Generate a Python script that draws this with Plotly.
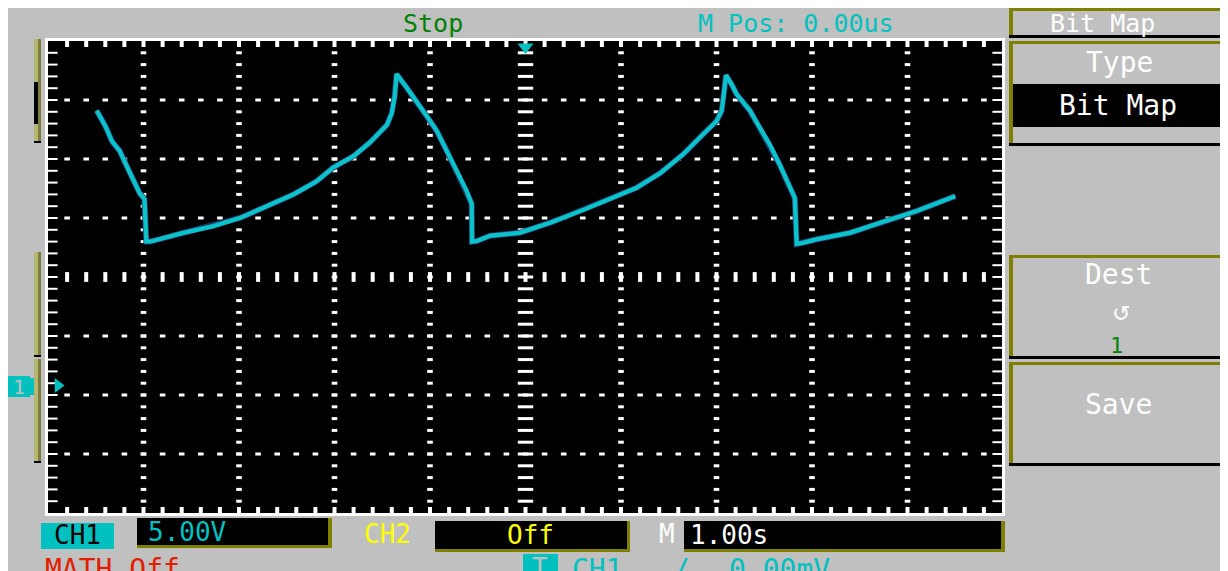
import numpy as np
import plotly.graph_objects as go

# ---------------- scope settings ----------------
sec_per_div = 1.0
volt_per_div = 5.0
n_hdiv = 10
n_vdiv = 8
ground_offset_div = -1.84          # CH1 ground marker, divisions from screen centre

# ---------------- CH1 waveform (s, V) ----------------
time_s = [-4.49, -4.40, -4.33, -4.25, -4.17, -4.09, -4.04, -3.99, -3.97, -3.93,
          -3.58, -3.27, -2.99, -2.71, -2.43, -2.19, -2.01, -1.80, -1.63, -1.45,
          -1.40, -1.37, -1.35,
          -1.24, -1.14, -1.03, -0.93, -0.825, -0.72, -0.616, -0.563, -0.56,
          -0.51, -0.37, -0.06, 0.26, 0.61, 0.96, 1.16, 1.41, 1.65, 1.86,
          2.00, 2.055, 2.08, 2.10,
          2.16, 2.21, 2.35, 2.45, 2.56, 2.66, 2.74, 2.82, 2.84,
          2.91, 3.05, 3.40, 3.75, 4.10, 4.50]
ch1_volts = [23.3, 22.0, 20.7, 19.9, 18.5, 17.1, 16.3, 15.8, 12.2, 12.2,
             12.95, 13.5, 14.2, 15.2, 16.2, 17.3, 18.5, 19.45, 20.6, 22.1,
             23.1, 24.5, 26.4,
             25.2, 24.1, 22.8, 21.6, 19.9, 18.2, 16.5, 15.4, 12.2,
             12.25, 12.7, 12.95, 13.8, 14.9, 16.05, 16.75, 18.0, 19.6, 21.3,
             22.4, 23.3, 24.7, 26.3,
             25.5, 24.7, 23.3, 21.85, 20.4, 18.75, 17.3, 15.9, 12.0,
             12.1, 12.4, 12.95, 13.9, 14.8, 16.05]

# ---------------- screen texts ----------------
status_top = ["Stop", "M Pos: 0.00us"]
menu_title = "Bit Map"
menu_items = ["Type", "Bit Map", "Dest", "\u21ba", "1", "Save"]
ch1_labels = ["CH1", "5.00V"]
ch2_labels = ["CH2", "Off"]
time_labels = ["M", "1.00s"]
bottom_row = ["MATH Off", "T", "CH1", "/", "0.00mV"]
ground_label = "1"

# ---------------- colours ----------------
GRAY = "#C0C0C0"
CYAN = "#00C0C0"
OLIVE = "#808000"
GREEN = "#008000"
YELLOW = "#FFFF00"
RED = "#E02000"
WHITE = "#FFFFFF"
FONT = "DejaVu Sans Mono"

# ---------------- geometry (screen pixels; page has an 8px body margin) ----------------
OFF = 8
W, H = 1220, 563
PL, PR, PT, PB = 48, 1003, 41, 513


def px(x):
    return (x - PL) / (PR - PL)


def py(y):
    return (PB - y) / (PB - PT)


x_lo, x_hi = -n_hdiv / 2 * sec_per_div, n_hdiv / 2 * sec_per_div
y_mid = -ground_offset_div * volt_per_div
y_lo, y_hi = y_mid - n_vdiv / 2 * volt_per_div, y_mid + n_vdiv / 2 * volt_per_div
ppx = (PR - PL) / (x_hi - x_lo)       # pixels per second
ppy = (PB - PT) / (y_hi - y_lo)       # pixels per volt

minor_x = x_lo + np.arange(0, n_hdiv * 5 + 1) * sec_per_div / 5
minor_y = y_lo + np.arange(0, n_vdiv * 5 + 1) * volt_per_div / 5

fig = go.Figure()


def dots(xs, ys, symbol, size, width, color=WHITE):
    fig.add_trace(go.Scatter(
        x=list(xs), y=list(ys), mode="markers", hoverinfo="skip", showlegend=False,
        cliponaxis=False,
        marker=dict(symbol=symbol, size=size, color=color,
                    line=dict(color=color, width=width))))


# grid: vertical dotted lines
gx, gy = [], []
for k in range(1, n_hdiv):
    if k == n_hdiv // 2:
        continue
    xv = x_lo + k * sec_per_div
    for yv in minor_y[1:-1]:
        gx.append(xv)
        gy.append(yv)
# grid: horizontal dotted lines
for k in range(1, n_vdiv):
    if k == n_vdiv // 2:
        continue
    yv = y_lo + k * volt_per_div
    for xv in minor_x[1:-1]:
        gx.append(xv)
        gy.append(yv)
dots(gx, gy, "line-ew", 4, 3)

# centre cross
dots([0.0] * (len(minor_y) - 2), minor_y[1:-1], "line-ew", 11, 3)
dots(minor_x[1:-1], [y_mid] * (len(minor_x) - 2), "line-ns", 7, 4)

# edge ticks
dots([x_lo + 4 / ppx] * (len(minor_y) - 2), minor_y[1:-1], "line-ew", 8, 2)
dots([x_hi - 5 / ppx] * (len(minor_y) - 2), minor_y[1:-1], "line-ew", 8, 2)
dots(minor_x[1:-1], [y_hi - 2.5 / ppy] * (len(minor_x) - 2), "line-ns", 5, 4)
dots(minor_x[1:-1], [y_lo + 2.5 / ppy] * (len(minor_x) - 2), "line-ns", 5, 4)

# waveform
fig.add_trace(go.Scatter(x=time_s, y=ch1_volts, mode="lines", hoverinfo="skip", showlegend=False,
                         line=dict(color="#123E66", width=6)))
fig.add_trace(go.Scatter(x=time_s, y=ch1_volts, mode="lines", hoverinfo="skip", showlegend=False,
                         line=dict(color="#30A6C8", width=4.5)))
fig.add_trace(go.Scatter(x=time_s, y=ch1_volts, mode="lines", hoverinfo="skip", showlegend=False,
                         line=dict(color="#00C8C8", width=3)))

# markers: ground arrow, trigger position, trigger level
dots([x_lo + 10 / ppx], [0.0], "triangle-right", 13, 0, CYAN)
dots([0.0], [y_hi - 6 / ppy], "triangle-down", 14, 0, CYAN)
dots([x_hi + 1 / ppx], [0.0], "line-ew", 8, 3, "#3AA0D0")

shapes = []


def rect(x0, y0, x1, y1, color):
    shapes.append(dict(type="rect", xref="paper", yref="paper",
                       x0=px(x0), x1=px(x1), y0=py(y1), y1=py(y0),
                       fillcolor=color, line=dict(width=0), layer="above"))


# plot frame
shapes.append(dict(type="rect", xref="paper", yref="paper",
                   x0=px(46.5), x1=px(1003.5), y0=py(514.5), y1=py(39.5),
                   line=dict(color=WHITE, width=3), fillcolor="rgba(0,0,0,0)", layer="above"))

# left side bars
for (a, b) in [(39, 141), (252, 355), (359, 461)]:
    rect(34, a, 38, b, "#B6B674")
    rect(38, a, 41, b, "#7E7E3C")
    rect(34, b, 41, b + 2, "#000000")
rect(34, 82, 38, 124, "#000000")

# ground "1" tag
rect(7, 376, 30, 397, CYAN)
rect(30, 378, 34, 395, CYAN)


# right menu boxes
def menu_box(y0, y1):
    rect(1009, y0, 1227, y0 + 3, OLIVE)
    rect(1009, y0, 1013, y1, OLIVE)
    rect(1223, y0 + 3, 1227, y1, "#000000")
    rect(1009, y1 - 3, 1227, y1, "#000000")


menu_box(8, 38)
menu_box(41, 146)
rect(1013, 84, 1223, 127, "#000000")
menu_box(255, 359)
menu_box(362, 466)

# status bar boxes
rect(41, 523, 114, 549, CYAN)
rect(137, 518, 332, 548, OLIVE)
rect(137, 518, 328, 545, "#000000")
rect(435, 521, 630, 552, OLIVE)
rect(435, 521, 627, 549, "#000000")
rect(684, 521, 1005, 552, OLIVE)
rect(684, 521, 1001, 549, "#000000")
rect(523, 554, 558, 580, CYAN)

annotations = []


def ann(text, x, y, color, size, xanchor="center", yanchor="middle", family=FONT):
    annotations.append(dict(text=text, xref="paper", yref="paper", x=px(x), y=py(y),
                            xanchor=xanchor, yanchor=yanchor, showarrow=False,
                            font=dict(family=family, size=size, color=color)))


ann(status_top[0], 433, 23.5, GREEN, 25)
ann(status_top[1], 796, 23.5, CYAN, 25)
ann(menu_title, 1102, 23.5, WHITE, 25)
ann(menu_items[0], 1119, 62, WHITE, 28)
ann(menu_items[1], 1118, 106, WHITE, 28)
ann(menu_items[2], 1118, 274, WHITE, 28)
ann(menu_items[3], 1121, 313, WHITE, 22, family="DejaVu Sans")
ann(menu_items[4], 1116, 345, GREEN, 22)
ann(menu_items[5], 1118, 404, WHITE, 28)
ann(ground_label, 19, 386.5, GRAY, 20)

ann(ch1_labels[0], 77, 535, "#000000", 26)
ann(ch1_labels[1], 146, 532, CYAN, 26, xanchor="left")
ann(ch2_labels[0], 387, 534, YELLOW, 26)
ann(ch2_labels[1], 530, 535, YELLOW, 26)
ann(time_labels[0], 667, 534, WHITE, 26)
ann(time_labels[1], 688, 535, WHITE, 26, xanchor="left")

ann(bottom_row[0], 43, 551, RED, 28, xanchor="left", yanchor="top")
ann(bottom_row[1], 540, 551, GRAY, 26, yanchor="top")
ann(bottom_row[2], 570, 551, CYAN, 28, xanchor="left", yanchor="top")
ann(bottom_row[3], 681, 551, CYAN, 28, yanchor="top")
ann(bottom_row[4], 727, 551, CYAN, 28, xanchor="left", yanchor="top")

fig.update_layout(
    width=W, height=H,
    margin=dict(l=PL - OFF, r=W - (PR - OFF), t=PT - OFF, b=H - (PB - OFF), pad=0),
    paper_bgcolor=GRAY, plot_bgcolor="#000000",
    showlegend=False,
    shapes=shapes, annotations=annotations,
    xaxis=dict(range=[x_lo, x_hi], showgrid=False, zeroline=False, showticklabels=False,
               ticks="", showline=False, fixedrange=True),
    yaxis=dict(range=[y_lo, y_hi], showgrid=False, zeroline=False, showticklabels=False,
               ticks="", showline=False, fixedrange=True),
)

fig.write_html("out.html")
